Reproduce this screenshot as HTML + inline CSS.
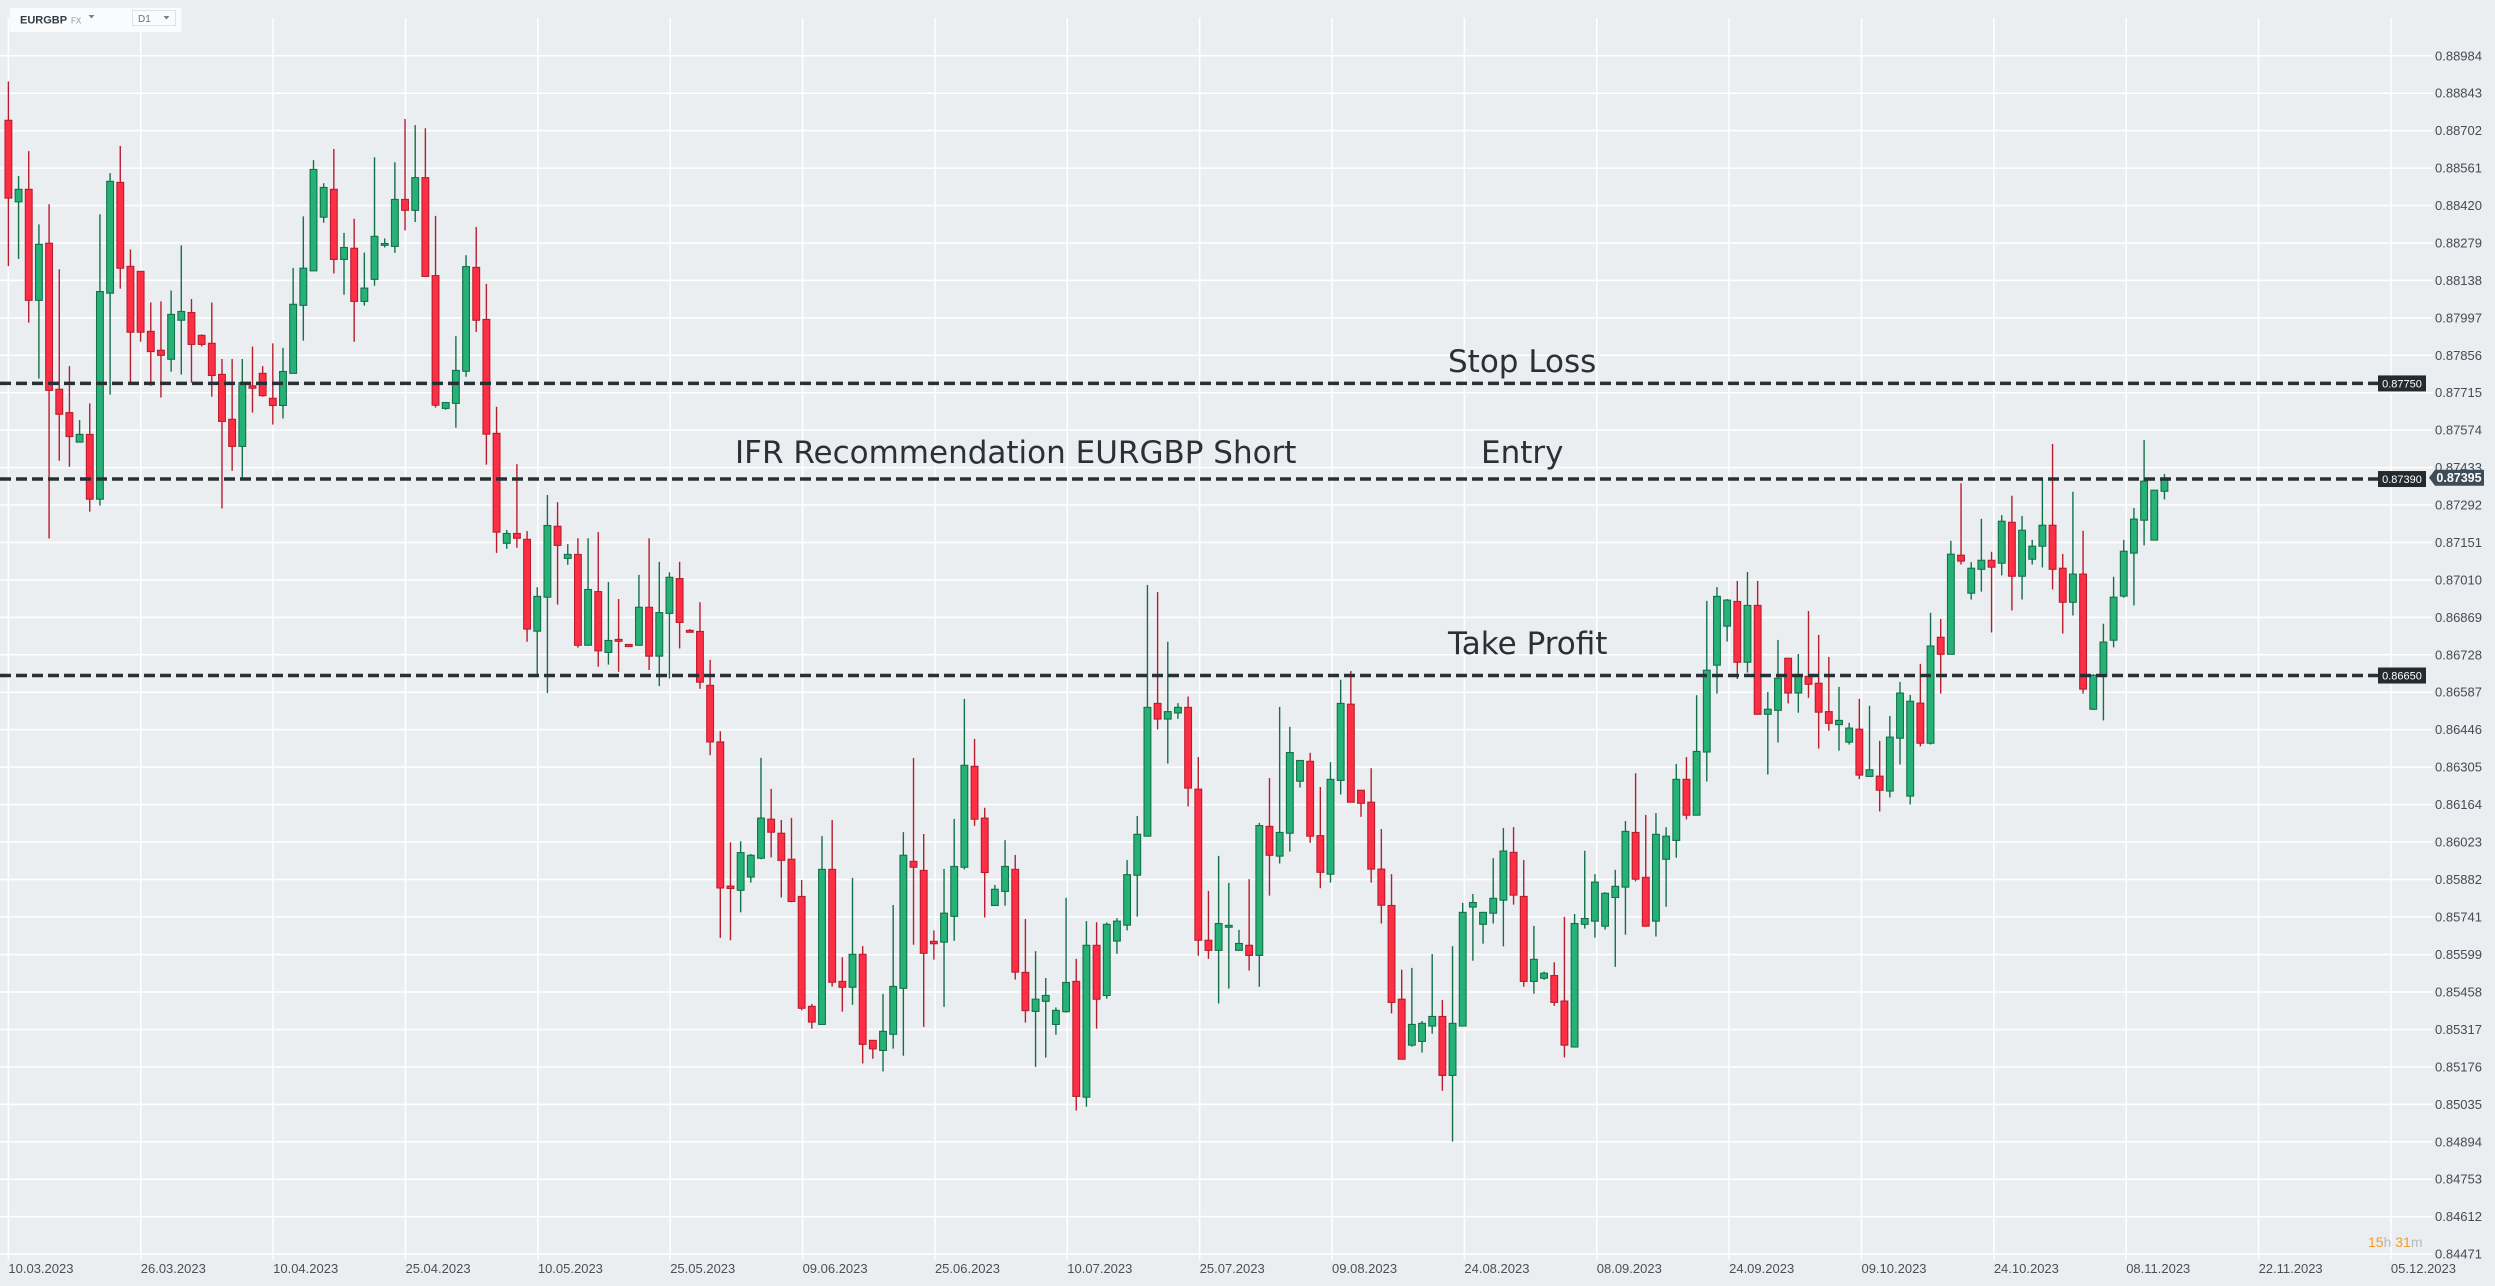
<!DOCTYPE html>
<html><head><meta charset="utf-8"><style>
html,body{margin:0;padding:0;background:#ebeef1;}
svg{display:block;font-family:"Liberation Sans",sans-serif;}
</style></head><body>
<svg id="chart" width="2495" height="1286" viewBox="0 0 2495 1286" xmlns="http://www.w3.org/2000/svg">
<rect x="0" y="0" width="2495" height="1286" fill="#ebeef1"/>
<g id="grid"></g>
<g id="candles"></g>
<g id="levels"></g>
<g id="axes"></g>
<g>
<rect x="9.5" y="8" width="172" height="24" rx="2" fill="#fafbfc"/>
<text x="20" y="23.5" font-size="11" font-weight="bold" fill="#333c44">EURGBP</text>
<text x="71" y="23.5" font-size="8" fill="#8a9096">FX</text>
<path d="M88.5 15 L94.5 15 L91.5 18.5 Z" fill="#7a8086"/>
<rect x="132.5" y="10.5" width="43" height="15" fill="#fafbfc" stroke="#dfe3e7"/>
<text x="138" y="22" font-size="10" fill="#6a7076">D1</text>
<path d="M163.5 16 L169.5 16 L166.5 19.5 Z" fill="#7a8086"/>
</g>
<text x="1448" y="372" font-family="DejaVu Sans, sans-serif" font-size="31" fill="#2a3036">Stop Loss</text>
<text x="735" y="463" font-family="DejaVu Sans, sans-serif" font-size="31" fill="#2a3036">IFR Recommendation EURGBP Short</text>
<text x="1481" y="463" font-family="DejaVu Sans, sans-serif" font-size="31" fill="#2a3036">Entry</text>
<text x="1448" y="654" font-family="DejaVu Sans, sans-serif" font-size="31" fill="#2a3036">Take Profit</text>
<text x="2368" y="1247" font-size="14"><tspan fill="#f29a2e">15</tspan><tspan fill="#b8bcc0">h</tspan><tspan fill="#f29a2e"> 31</tspan><tspan fill="#b8bcc0">m</tspan></text>
</svg>
<script>
const openP=[.88741,.88434,.88481,.88063,.88278,.87728,.87640,.87529,.87558,.87314,
.88090,.88507,.88191,.88172,.87946,.87875,.87841,.87988,.88017,.87931,
.87901,.87784,.87615,.87513,.87741,.87788,.87694,.87667,.87788,.88044,
.88174,.88376,.88481,.88217,.88259,.88059,.88142,.88270,.88266,.88443,
.88402,.88525,.88156,.87656,.87675,.87796,.88187,.87991,.87562,.87148,
.87185,.87163,.86817,.86945,.87212,.87091,.87106,.86764,.86966,.86737,
.86786,.86767,.86764,.86907,.86723,.86884,.87015,.86820,.86816,.86613,
.86400,.85857,.85841,.85891,.85962,.86109,.86056,.85958,.85818,.85404,
.85336,.85920,.85498,.85476,.85600,.85276,.85238,.85299,.85472,.85950,
.85916,.85649,.85646,.85743,.85928,.86308,.86113,.85784,.85837,.85920,
.85532,.85385,.85423,.85336,.85384,.85498,.85062,.85634,.85445,.85650,
.85710,.85898,.86045,.86545,.86486,.86509,.86530,.86222,.85653,.85615,
.85702,.85615,.85634,.85596,.86082,.85970,.86056,.86252,.86327,.86047,
.85902,.86255,.86542,.86218,.86173,.85921,.85784,.85431,.85258,.85272,
.85330,.85366,.85144,.85330,.85778,.85713,.85755,.85804,.85984,.85818,
.85498,.85510,.85520,.85424,.85251,.85713,.85725,.85706,.85814,.85853,
.86059,.85890,.85725,.85958,.86029,.86259,.86124,.86362,.86689,.86836,
.86929,.86700,.86914,.86504,.86519,.86715,.86584,.86647,.86621,.86514,
.86465,.86399,.86448,.86270,.86271,.86215,.86414,.86196,.86546,.86395,
.86794,.86730,.87103,.86960,.87050,.87084,.87073,.87227,.87024,.87088,
.87137,.87216,.87054,.86926,.87032,.86523,.86648,.86783,.86949,.87111,
.87235,.87160,.87344];
const highP=[.88887,.88531,.88625,.88349,.88425,.88180,.87815,.87612,.87675,.88387,
.88542,.88644,.88255,.88172,.88055,.88059,.88100,.88270,.88068,.87935,
.88055,.87842,.87842,.87842,.87889,.87815,.87901,.87884,.88185,.88379,
.88591,.88504,.88633,.88317,.88370,.88243,.88602,.88296,.88583,.88746,
.88723,.88711,.88381,.87678,.87928,.88233,.88339,.88125,.87662,.87198,
.87446,.87194,.86983,.87330,.87303,.87145,.87167,.87167,.87190,.87002,
.86938,.86767,.87029,.87167,.87078,.87039,.87078,.86825,.86926,.86709,
.86440,.86022,.86026,.85978,.86340,.86223,.86106,.86114,.85880,.85413,
.86045,.86106,.85589,.85888,.85631,.85276,.85451,.85786,.86060,.86340,
.86053,.85690,.85922,.86110,.86562,.86411,.86152,.85861,.86030,.85974,
.85733,.85612,.85511,.85400,.85813,.85583,.85725,.85721,.85720,.85736,
.85955,.86121,.86991,.86964,.86777,.86546,.86571,.86343,.85839,.85971,
.85869,.85692,.85883,.86095,.86264,.86532,.86457,.86330,.86359,.86230,
.86324,.86634,.86667,.86218,.86301,.86072,.85902,.85542,.85549,.85349,
.85601,.85428,.85631,.85794,.85827,.85758,.85962,.86076,.86079,.85955,
.85707,.85535,.85570,.85741,.85752,.85990,.85902,.85834,.85918,.86102,
.86282,.86125,.86132,.86079,.86317,.86343,.86576,.86931,.86983,.86938,
.87006,.87040,.87006,.86588,.86784,.86715,.86731,.86893,.86803,.86720,
.86607,.86472,.86562,.86536,.86404,.86498,.86626,.86577,.86694,.86886,
.86863,.87157,.87374,.87077,.87240,.87116,.87254,.87327,.87251,.87161,
.87389,.87522,.87108,.87342,.87195,.86655,.86845,.87022,.87161,.87281,
.87537,.87348,.87409];
const lowP=[.88192,.88219,.87979,.87768,.87166,.87459,.87436,.87529,.87267,.87290,
.87708,.88107,.87755,.87907,.87741,.87697,.87794,.87783,.87753,.87889,
.87700,.87279,.87421,.87388,.87640,.87700,.87595,.87618,.87788,.87911,
.88174,.88355,.88164,.88084,.87907,.88043,.88118,.88262,.88242,.88326,
.88358,.88153,.87659,.87651,.87583,.87775,.87944,.87444,.87112,.87127,
.87131,.86777,.86655,.86584,.86917,.87067,.86755,.86764,.86683,.86691,
.86664,.86759,.86764,.86671,.86610,.86639,.86752,.86813,.86600,.86350,
.85662,.85653,.85758,.85870,.85958,.85965,.85814,.85796,.85389,.85320,
.85336,.85479,.85384,.85410,.85189,.85207,.85159,.85245,.85218,.85636,
.85327,.85580,.85402,.85651,.85920,.86084,.85739,.85784,.85783,.85505,
.85343,.85176,.85211,.85297,.85380,.85012,.85026,.85320,.85433,.85602,
.85690,.85742,.86045,.86447,.86318,.86487,.86157,.85595,.85583,.85415,
.85471,.85615,.85539,.85478,.85821,.85942,.85987,.86228,.86020,.85849,
.85870,.86202,.86173,.86118,.85870,.85716,.85377,.85205,.85252,.85230,
.85301,.85086,.84895,.85330,.85576,.85640,.85716,.85630,.85787,.85478,
.85452,.85504,.85406,.85212,.85251,.85697,.85663,.85693,.85553,.85674,
.85875,.85706,.85667,.85779,.85964,.86108,.86124,.86251,.86582,.86778,
.86637,.86661,.86504,.86277,.86398,.86545,.86510,.86566,.86375,.86442,
.86367,.86390,.86260,.86270,.86138,.86191,.86315,.86164,.86383,.86390,
.86582,.86730,.87068,.86936,.86966,.86812,.87027,.86895,.86936,.87068,
.87057,.86974,.86808,.86876,.86582,.86520,.86481,.86756,.86943,.86914,
.87140,.87160,.87313];
const closeP=[.88448,.88481,.88063,.88274,.87724,.87634,.87550,.87558,.87314,.88096,
.88511,.88184,.87943,.87943,.87870,.87856,.88010,.88021,.87897,.87897,
.87780,.87607,.87513,.87753,.87732,.87704,.87667,.87795,.88048,.88184,
.88556,.88488,.88217,.88262,.88059,.88109,.88304,.88277,.88443,.88402,
.88525,.88153,.87668,.87678,.87799,.88190,.87988,.87559,.87190,.87185,
.87167,.86825,.86948,.87215,.87140,.87106,.86764,.86974,.86743,.86782,
.86779,.86759,.86907,.86723,.86887,.87020,.86850,.86813,.86625,.86400,
.85850,.85848,.85983,.85973,.86113,.86060,.85954,.85799,.85397,.85345,
.85920,.85495,.85476,.85600,.85261,.85244,.85310,.85479,.85973,.85928,
.85604,.85640,.85755,.85931,.86312,.86109,.85908,.85845,.85931,.85533,
.85388,.85431,.85445,.85389,.85494,.85065,.85634,.85431,.85713,.85725,
.85900,.86052,.86530,.86486,.86514,.86530,.86226,.85653,.85615,.85716,
.85709,.85641,.85596,.86085,.85973,.86059,.86360,.86330,.86045,.85909,
.86259,.86545,.86173,.86169,.85921,.85785,.85419,.85205,.85336,.85340,
.85366,.85144,.85340,.85758,.85795,.85758,.85811,.85989,.85823,.85498,
.85581,.85529,.85419,.85258,.85716,.85735,.85872,.85830,.85856,.86063,
.85883,.85706,.86052,.86045,.86259,.86124,.86364,.86670,.86948,.86934,
.86700,.86914,.86504,.86523,.86640,.86584,.86650,.86617,.86512,.86470,
.86481,.86452,.86275,.86295,.86218,.86418,.86584,.86553,.86395,.86761,
.86730,.87107,.87081,.87054,.87084,.87058,.87231,.87024,.87197,.87137,
.87216,.87050,.86926,.87032,.86599,.86651,.86776,.86945,.87118,.87239,
.87382,.87348,.87389];
const priceTicks=["0.88984","0.88843","0.88702","0.88561","0.88420","0.88279","0.88138","0.87997","0.87856","0.87715","0.87574","0.87433","0.87292","0.87151","0.87010","0.86869","0.86728","0.86587","0.86446","0.86305","0.86164","0.86023","0.85882","0.85741","0.85599","0.85458","0.85317","0.85176","0.85035","0.84894","0.84753","0.84612","0.84471"];
const dateLabels=["10.03.2023","26.03.2023","10.04.2023","25.04.2023","10.05.2023","25.05.2023","09.06.2023","25.06.2023","10.07.2023","25.07.2023","09.08.2023","24.08.2023","08.09.2023","24.09.2023","09.10.2023","24.10.2023","08.11.2023","22.11.2023","05.12.2023"];
const levelNames=["stop-loss","entry","take-profit"];
const levelValues=[0.87750,0.87390,0.86650];
const levelLabels=["0.87750","0.87390","0.86650"];
const lastPrice=0.87395;
const lastPriceLabel="0.87395";

const NS="http://www.w3.org/2000/svg";
const Y0=0.89194, PXPER=0.00003766;
function yS(p){return (Y0-p)/PXPER;}
const X0=8.4, STEP=10.17;
function xS(i){return X0+STEP*i;}
const CANDLES_PER_GRID=13.015;
function mk(tag,attrs,parent){const e=document.createElementNS(NS,tag);for(const k in attrs)e.setAttribute(k,attrs[k]);parent.appendChild(e);return e;}

const grid=document.getElementById('grid');
priceTicks.forEach((t,k)=>{
  const y=yS(parseFloat(t));
  const l=mk('line',{x1:0,x2:2433,y1:y,y2:y,stroke:'#ffffff','stroke-width':1.5},grid);
  
  
});
dateLabels.forEach((d,k)=>{
  const x=xS(k*CANDLES_PER_GRID);
  const l=mk('line',{x1:x,x2:x,y1:18,y2:1260,stroke:'#ffffff','stroke-width':1.5},grid);
  
  
});

const cg=document.getElementById('candles');
for(let i=0;i<openP.length;i++){
  const up=closeP[i]>=openP[i];
  const fill=up?'#26b276':'#fe2f45', edge=up?'#13714a':'#b81d2e';
  const x=xS(i);
  const g=mk('g',{},cg);
  
  
  const w=mk('line',{x1:x,x2:x,y1:yS(highP[i]),y2:yS(lowP[i]),stroke:edge,'stroke-width':1.4},g);
  
  
  const top=yS(Math.max(openP[i],closeP[i])), bot=yS(Math.min(openP[i],closeP[i]));
  const b=mk('rect',{x:x-3.4,y:top,width:6.8,height:Math.max(bot-top,1.2),fill:fill,stroke:edge,'stroke-width':1.1},g);
  
  
}

const lv=document.getElementById('levels');
levelValues.forEach((v,k)=>{
  const y=yS(v);
  const l=mk('line',{x1:0,x2:2378,y1:y,y2:y,stroke:'#283036','stroke-width':3.5,'stroke-dasharray':'11 5'},lv);
  
  
  const r=mk('rect',{x:2378,y:y-8,width:48,height:16,fill:'#232b31'},lv);
  
  
  const t=mk('text',{x:2402,y:y+4,'font-size':11,fill:'#ffffff','text-anchor':'middle'},lv);
  t.textContent=levelLabels[k];
  
  
});

const ax=document.getElementById('axes');
priceTicks.forEach(t=>{
  const y=yS(parseFloat(t));
  const e=mk('text',{x:2435,y:y+4.5,'font-size':13,fill:'#454b52'},ax);
  e.textContent=t;
  
  
});
dateLabels.forEach((d,k)=>{
  const x=xS(k*CANDLES_PER_GRID);
  const e=mk('text',{x:x,y:1273,'font-size':13,fill:'#4a5056'},ax);
  e.textContent=d;
  
  
});
const ly=yS(lastPrice);
const lp=mk('path',{d:`M2429 ${ly} L2435 ${ly-8} L2484 ${ly-8} L2484 ${ly+8} L2435 ${ly+8} Z`,fill:'#3e4c57'},ax);


const lt=mk('text',{x:2459,y:ly+4.5,'font-size':12.5,'font-weight':'bold',fill:'#ffffff','text-anchor':'middle'},ax);
lt.textContent=lastPriceLabel;


</script>
</body></html>
